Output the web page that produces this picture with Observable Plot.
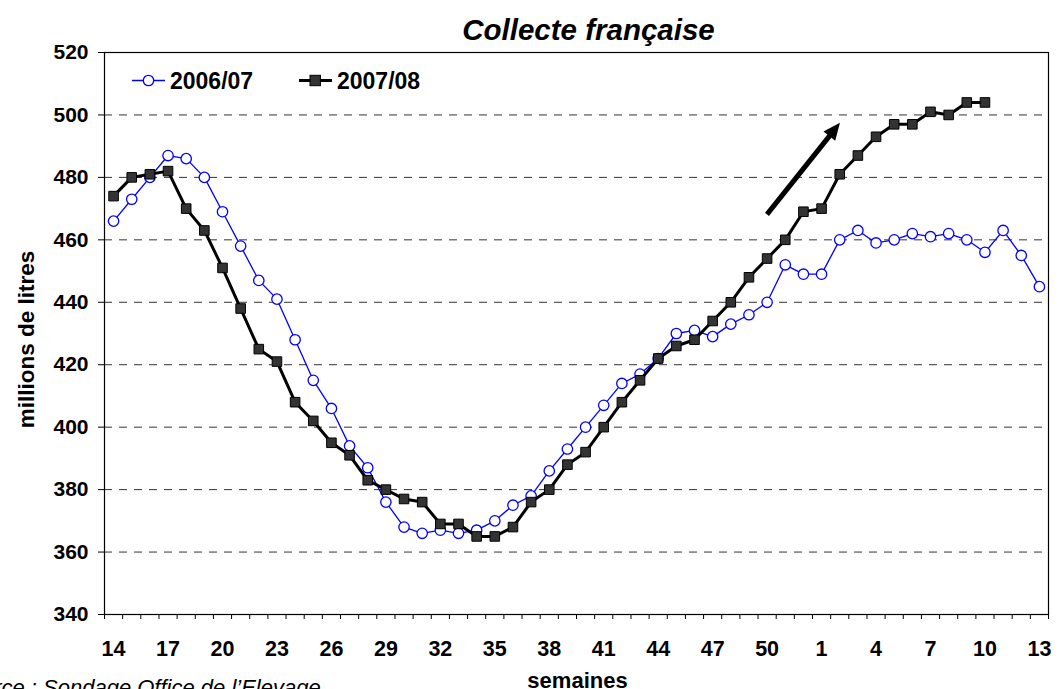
<!DOCTYPE html>
<html>
<head>
<meta charset="utf-8">
<script src="https://cdn.jsdelivr.net/npm/d3@7"></script>
<script src="https://cdn.jsdelivr.net/npm/@observablehq/plot@0.6"></script>
<style>
  html, body { margin: 0; padding: 0; background: #fff; overflow: hidden; }
  #chart { position: relative; width: 1060px; height: 689px; }
  svg { font-family: "Liberation Sans", Arial, sans-serif; }
</style>
</head>
<body>
<div id="chart"></div>
<script>
// ---- Data ----
const weeks = [14,15,16,17,18,19,20,21,22,23,24,25,26,27,28,29,30,31,32,33,34,35,36,37,38,39,40,41,42,43,44,45,46,47,48,49,50,51,52,1,2,3,4,5,6,7,8,9,10,11,12,13];
const collecte2006 = [466,473,480,487,486,480,469,458,447,441,
                      428,415,406,394,387,376,368,366,367,366,
                      367,370,375,378,386,393,400,407,414,417,
                      422,430,431,429,433,436,440,452,449,
                      449,460,463,459,460,462,461,462,460,456,463,455,445];
const collecte2007 = [474,480,481,482,470,463,451,438,425,421,
                      408,402,395,391,383,380,377,376,369,369,
                      365,365,368,376,380,388,392,400,408,415,
                      422,426,428,434,440,448,454,460,469,
                      470,481,487,493,497,497,501,500,504,504,null,null,null];
const seriesNames = ["2006/07", "2007/08"];
const yTicks = [340,360,380,400,420,440,460,480,500,520];
const xLabelWeeks = [14,17,20,23,26,29,32,35,38,41,44,47,50,1,4,7,10,13];
const arrowStart = {week: 50, value: 468};
const arrowEnd = {week: 2, value: 497.3};

// ---- Build tables ----
const idx = weeks.map((w, i) => i);
const s06 = idx.map(i => ({i, v: collecte2006[i]}));
const s07 = idx.map(i => ({i, v: collecte2007[i]})).filter(d => d.v != null);
const boundaries = d3.range(weeks.length + 1).map(i => i - 0.5);
const labelIdx = xLabelWeeks.map(w => weeks.indexOf(w));

const W = 1060, H = 689;
const mL = 104, mR = 12, mT = 52, mB = 75;
const FONT = '"Liberation Sans", Arial, sans-serif';

const chart = Plot.plot({
  width: W, height: H,
  marginLeft: mL, marginRight: mR, marginTop: mT, marginBottom: mB,
  style: {fontFamily: FONT, background: "#fff", overflow: "visible"},
  x: {type: "linear", domain: [-0.5, weeks.length - 0.5]},
  y: {domain: [340, 520]},
  marks: [
    Plot.gridY(yTicks.filter(t => t > 340 && t < 520), {stroke: "#333", strokeOpacity: 1, strokeWidth: 1, strokeDasharray: "8,7"}),
    Plot.frame({stroke: "#000", strokeWidth: 1.2}),
    Plot.axisY(yTicks, {tickSize: 6, tickPadding: 10, fontSize: 21, fontWeight: "bold", fill: "#000", label: null}),
    Plot.axisX(boundaries, {tickSize: 5, tickFormat: () => "", label: null}),
    Plot.axisX(labelIdx, {tickSize: 0, tickPadding: 26, fontSize: 21.5, fontWeight: "bold", fill: "#000", tickFormat: i => String(weeks[i]), label: null}),
    // 2006/07
    Plot.line(s06, {x: "i", y: "v", stroke: "#0000ff", strokeWidth: 1.3}),
    Plot.dot(s06, {x: "i", y: "v", r: 5.2, stroke: "#0000ff", strokeWidth: 1.3, fill: "#fff"}),
    // 2007/08
    Plot.line(s07, {x: "i", y: "v", stroke: "#000", strokeWidth: 3}),
    Plot.dot(s07, {x: "i", y: "v", symbol: "square", r: 5.4, stroke: "#000", strokeWidth: 1, fill: "#333"}),
    // titles
    Plot.text(["Collecte française"], {frameAnchor: "top", textAnchor: "middle", lineAnchor: "bottom", dx: 12, dy: -13, fontSize: 29.5, fontWeight: "bold", fontStyle: "italic", fill: "#000"}),
    Plot.text(["semaines"], {frameAnchor: "bottom", textAnchor: "middle", lineAnchor: "bottom", dx: 1, dy: 73, fontSize: 22, fontWeight: "bold", fill: "#000"}),
    Plot.text(["millions de litres"], {frameAnchor: "left", textAnchor: "middle", lineAnchor: "bottom", dx: -71, dy: 6, rotate: -90, fontSize: 22.5, fontWeight: "bold", fill: "#000"})
  ]
});

const svg = d3.select(chart);
const sx = chart.scale("x"), sy = chart.scale("y");

// arrow (filled head), positioned through the plot's scales
{
  const x1 = sx.apply(weeks.indexOf(arrowStart.week) + 0.02), y1 = sy.apply(arrowStart.value);
  const x2 = sx.apply(weeks.indexOf(arrowEnd.week) + 0.04), y2 = sy.apply(arrowEnd.value);
  const ang = Math.atan2(y2 - y1, x2 - x1);
  const hl = 17, hw = 7.5;
  const bx = x2 - hl * Math.cos(ang), by = y2 - hl * Math.sin(ang);
  const px = -Math.sin(ang), py = Math.cos(ang);
  svg.append("line").attr("x1", x1).attr("y1", y1).attr("x2", bx + 2 * Math.cos(ang)).attr("y2", by + 2 * Math.sin(ang))
    .attr("stroke", "#000").attr("stroke-width", 5);
  svg.append("polygon")
    .attr("points", [[x2, y2], [bx + hw * px, by + hw * py], [bx - hw * px, by - hw * py]].map(p => p.join(",")).join(" "))
    .attr("fill", "#000");
}

// caption (cropped at left edge like the reference)
svg.append("text").attr("x", -45).attr("y", 695).attr("text-anchor", "start")
  .attr("font-size", 22).attr("font-style", "italic").attr("fill", "#000")
  .text("Source : Sondage Office de l\u2019Elevage");

// legend
const lg = svg.append("g").attr("text-anchor", "start");
const legendY = 80.5;
lg.append("line").attr("x1", 132).attr("x2", 165).attr("y1", legendY).attr("y2", legendY)
  .attr("stroke", "#0000ff").attr("stroke-width", 1.3);
lg.append("circle").attr("cx", 148.5).attr("cy", legendY).attr("r", 5.2)
  .attr("fill", "#fff").attr("stroke", "#0000ff").attr("stroke-width", 1.3);
lg.append("text").attr("x", 170).attr("y", legendY + 8.5).attr("font-size", 23).attr("font-weight", "bold")
  .attr("fill", "#000").text(seriesNames[0]);
lg.append("line").attr("x1", 299).attr("x2", 332).attr("y1", legendY).attr("y2", legendY)
  .attr("stroke", "#000").attr("stroke-width", 3);
lg.append("rect").attr("x", 310).attr("y", legendY - 5.2).attr("width", 10.4).attr("height", 10.4)
  .attr("fill", "#333").attr("stroke", "#000").attr("stroke-width", 1);
lg.append("text").attr("x", 337).attr("y", legendY + 8.5).attr("font-size", 23).attr("font-weight", "bold")
  .attr("fill", "#000").text(seriesNames[1]);

document.getElementById("chart").appendChild(chart);
</script>
</body>
</html>
